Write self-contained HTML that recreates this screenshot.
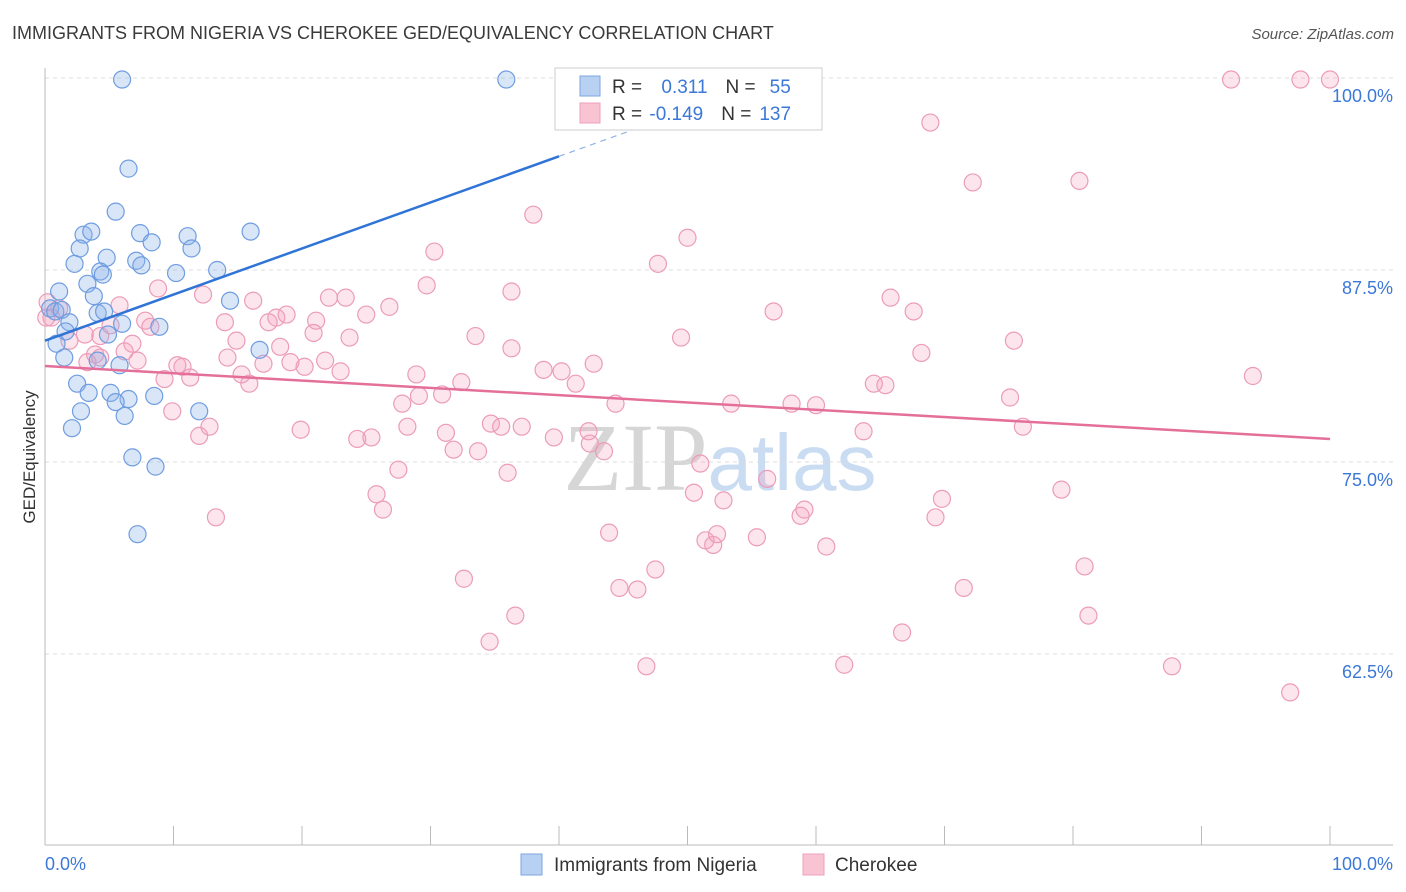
<!DOCTYPE html>
<html><head><meta charset="utf-8">
<style>
body{margin:0;background:#fff;font-family:"Liberation Sans",sans-serif;}
#wrap{position:relative;width:1406px;height:892px;overflow:hidden;}
svg{position:absolute;left:0;top:0;}
</style></head>
<body>
<div id="wrap">
<svg id="c" width="1406" height="892">
<text x="12" y="39" font-size="18" fill="#3a3a3a">IMMIGRANTS FROM NIGERIA VS CHEROKEE GED/EQUIVALENCY CORRELATION CHART</text>
<text x="1394" y="39" font-size="15" fill="#555" font-style="italic" text-anchor="end">Source: ZipAtlas.com</text>
<text x="720" y="490" font-size="96" fill="#d8d8d8" text-anchor="middle" font-family="Liberation Serif,serif"><tspan fill="#d6d6d6">ZIP</tspan><tspan fill="#c9dcf2" font-family="Liberation Sans,sans-serif" font-size="80">atlas</tspan></text>
<text transform="translate(35,457) rotate(-90)" font-size="17" fill="#333" text-anchor="middle">GED/Equivalency</text>
<g id="grid"></g><g id="pts"></g><g id="trend"></g>
<g>
<rect x="555" y="68" width="267" height="62" fill="#fff" stroke="#ccc"/>
<rect x="580" y="76" width="20" height="20" fill="#b8d1f3" stroke="#7ea6e0"/>
<rect x="580" y="103" width="20" height="20" fill="#f8c4d4" stroke="#eda0ba"/>
<text x="612" y="93" font-size="19" fill="#333">R = <tspan fill="#3b78d8" dx="14">0.311</tspan><tspan dx="18" fill="#333">N =</tspan><tspan dx="14" fill="#3b78d8">55</tspan></text>
<text x="612" y="120" font-size="19" fill="#333">R = <tspan fill="#3b78d8" dx="2">-0.149</tspan><tspan dx="18" fill="#333">N =</tspan><tspan dx="8" fill="#3b78d8">137</tspan></text>
</g>
<g>
<rect x="521" y="854" width="21" height="21" fill="#b8d1f3" stroke="#7ea6e0"/>
<text x="554" y="871" font-size="19" fill="#333">Immigrants from Nigeria</text>
<rect x="803" y="854" width="21" height="21" fill="#f8c4d4" stroke="#eda0ba"/>
<text x="835" y="871" font-size="19" fill="#333">Cherokee</text>
</g>
<text x="45" y="870" font-size="18" fill="#3b78d8">0.0%</text>
<text x="1393" y="870" font-size="18" fill="#3b78d8" text-anchor="end">100.0%</text>
</svg>
</div>
<script>
const yTicks=[100,87.5,75,62.5];
const yTickLabels=["100.0%","87.5%","75.0%","62.5%"];
const xTicks=[0,10,20,30,40,50,60,70,80,90,100];
const nigeriaX=[6.0,35.9,6.5,5.5,3.0,3.6,7.4,8.3,11.1,11.4,16.0,2.7,2.3,4.8,7.1,7.5,4.3,4.5,10.2,13.4,1.1,3.3,3.8,14.4,0.4,0.8,1.3,4.1,4.6,1.9,6.0,8.9,1.6,4.9,0.9,16.7,1.5,4.1,5.8,2.5,3.4,5.1,6.5,8.5,5.5,2.8,12.0,6.2,2.1,6.8,8.6,7.2];
const nigeriaY=[99.9,99.9,94.1,91.3,89.8,90.0,89.9,89.3,89.7,88.9,90.0,88.9,87.9,88.3,88.1,87.8,87.4,87.2,87.3,87.5,86.1,86.6,85.8,85.5,85.0,84.8,84.9,84.7,84.8,84.1,84.0,83.8,83.5,83.3,82.7,82.3,81.8,81.6,81.3,80.1,79.5,79.5,79.1,79.3,78.9,78.3,78.3,78.0,77.2,75.3,74.7,70.3];
const cherokeeX=[92.3,97.7,100,53.7,48.2,68.9,72.2,80.5,38.0,50.0,30.3,47.7,8.8,29.7,36.3,12.3,16.2,22.1,23.4,26.8,56.7,65.8,67.6,5.8,1.1,0.2,0.5,0.1,7.8,14.0,17.4,18.0,18.8,21.1,25.0,20.9,23.7,33.5,49.5,75.4,3.1,4.3,1.9,6.8,8.2,5.1,14.9,18.3,36.3,42.7,40.2,38.8,41.3,68.2,6.2,3.9,4.3,3.3,7.2,14.2,10.3,10.7,17.0,19.1,20.2,21.8,23.0,28.9,32.4,9.3,11.3,15.9,15.3,29.1,30.9,27.8,44.4,53.4,58.1,60.0,64.5,65.4,75.1,94.0,9.9,12.0,12.8,19.9,24.3,25.4,28.2,31.2,31.8,33.7,34.7,35.5,37.1,39.6,42.3,42.4,43.5,63.7,76.1,27.5,36.0,51.0,56.2,25.8,26.3,13.3,50.5,52.8,69.8,79.1,43.9,51.4,52.0,52.3,55.4,58.8,59.1,60.8,69.3,32.6,44.7,46.1,47.5,71.5,80.9,36.6,81.2,34.6,66.7,46.8,62.2,87.7,96.9];
const cherokeeY=[99.9,99.9,99.9,99.9,99.9,97.1,93.2,93.3,91.1,89.6,88.7,87.9,86.3,86.5,86.1,85.9,85.5,85.7,85.7,85.1,84.8,85.7,84.8,85.2,85.0,85.4,84.4,84.4,84.2,84.1,84.1,84.4,84.6,84.2,84.6,83.4,83.1,83.2,83.1,82.9,83.3,83.2,82.9,82.7,83.8,83.9,82.9,82.5,82.4,81.4,80.9,81.0,80.1,82.1,82.2,82.0,81.8,81.5,81.6,81.8,81.3,81.2,81.4,81.5,81.2,81.6,80.9,80.7,80.2,80.4,80.5,80.1,80.7,79.3,79.4,78.8,78.8,78.8,78.8,78.7,80.1,80.0,79.2,80.6,78.3,76.7,77.3,77.1,76.5,76.6,77.3,76.9,75.8,75.7,77.5,77.3,77.3,76.6,77.0,76.2,75.7,77.0,77.3,74.5,74.3,74.9,73.9,72.9,71.9,71.4,73.0,72.5,72.6,73.2,70.4,69.9,69.6,70.3,70.1,71.5,71.9,69.5,71.4,67.4,66.8,66.7,68.0,66.8,68.2,65.0,65.0,63.3,63.9,61.7,61.8,61.7,60.0];
const nigeriaTrend=[82.9,0.3]; // intercept, slope per %
const cherokeeTrend=[81.25,-0.0475];
const X=v=>45+v*12.85, Y=v=>78+(100-v)*15.36;
const NS="http://www.w3.org/2000/svg";
function mk(t,a,p){const e=document.createElementNS(NS,t);for(const k in a)e.setAttribute(k,a[k]);p.appendChild(e);return e;}
const grid=document.getElementById('grid');
yTicks.forEach((t,i)=>{
 const l=mk('line',{x1:45,x2:1393,y1:Y(t),y2:Y(t),stroke:'#dcdcdc','stroke-dasharray':'4,4'},grid);
 
 
 const tx=mk('text',{x:1393,y:Y(t)+24,'font-size':18,fill:'#3b78d8','text-anchor':'end'},grid);
 tx.textContent=yTickLabels[i];
 
 
});
const ax=mk('line',{x1:45,x2:45,y1:68,y2:845,stroke:'#bbb'},grid);


const bx=mk('line',{x1:45,x2:1393,y1:845,y2:845,stroke:'#bbb'},grid);


xTicks.forEach(t=>{const l=mk('line',{x1:X(t),x2:X(t),y1:826,y2:845,stroke:'#bbb'},grid);
 
 });
const pts=document.getElementById('pts');
cherokeeX.forEach((x,i)=>{const c=mk('circle',{cx:X(x),cy:Y(cherokeeY[i]),r:8.5,fill:'rgba(244,160,190,0.28)',stroke:'#ec9cb8','stroke-width':1.2},pts);
 
 });
nigeriaX.forEach((x,i)=>{const c=mk('circle',{cx:X(x),cy:Y(nigeriaY[i]),r:8.5,fill:'rgba(140,180,235,0.33)',stroke:'#6f9de0','stroke-width':1.2},pts);
 
 });
const tr=document.getElementById('trend');
const nf=v=>nigeriaTrend[0]+nigeriaTrend[1]*v;
const a=mk('line',{x1:X(0),y1:Y(nf(0)),x2:X(40),y2:Y(nf(40)),stroke:'#2f74d6','stroke-width':2.5},tr);


const xe=(100-nigeriaTrend[0])/nigeriaTrend[1];
const b=mk('line',{x1:X(40),y1:Y(nf(40)),x2:X(xe),y2:Y(100),stroke:'#8fb2e8','stroke-width':1.2,'stroke-dasharray':'6,5'},tr);


const cf=v=>cherokeeTrend[0]+cherokeeTrend[1]*v;
const c=mk('line',{x1:X(0),y1:Y(cf(0)),x2:X(100),y2:Y(cf(100)),stroke:'#e4709a','stroke-width':2.5},tr);


</script>
</body></html>
